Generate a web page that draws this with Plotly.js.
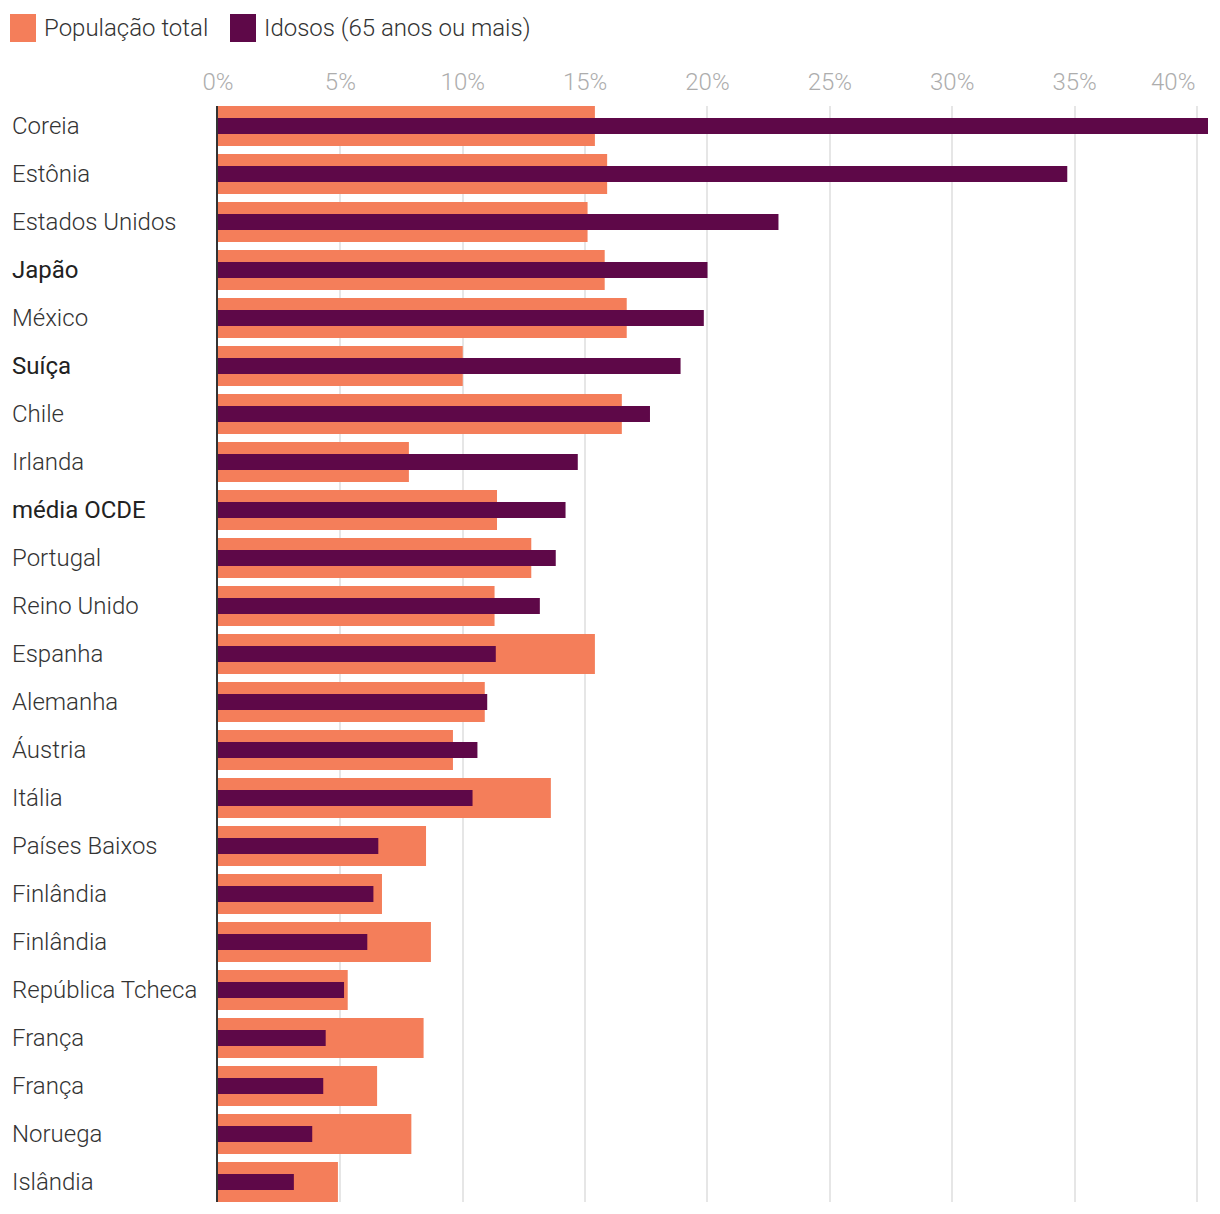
<!DOCTYPE html>
<html>
<head>
<meta charset="utf-8">
<script src="https://cdn.plot.ly/plotly-3.0.1.min.js"></script>
<style>
  html, body { margin: 0; padding: 0; background: #ffffff; }
  #chart { width: 1220px; height: 1214px; }
</style>
</head>
<body>
<div id="chart"></div>
<script>
// ---- data ----
const countries = [
  "Coreia", "Estônia", "Estados Unidos", "Japão", "México", "Suíça", "Chile",
  "Irlanda", "média OCDE", "Portugal", "Reino Unido", "Espanha", "Alemanha",
  "Áustria", "Itália", "Países Baixos", "Finlândia", "Finlândia",
  "República Tcheca", "França", "França", "Noruega", "Islândia"
];
const highlighted = ["Japão", "Suíça", "média OCDE"];
const populacaoTotal = [
  15.4, 15.9, 15.1, 15.8, 16.7, 10.0, 16.5,
  7.8, 11.4, 12.8, 11.3, 15.4, 10.9,
  9.6, 13.6, 8.5, 6.7, 8.7,
  5.3, 8.4, 6.5, 7.9, 4.9
];
const idosos = [
  40.45, 34.7, 22.9, 20.0, 19.85, 18.9, 17.65,
  14.7, 14.2, 13.8, 13.15, 11.35, 11.0,
  10.6, 10.4, 6.55, 6.35, 6.1,
  5.15, 4.4, 4.3, 3.85, 3.1
];
const tickValues = [0, 5, 10, 15, 20, 25, 30, 35, 40];
const tickLabels = ["0%", "5%", "10%", "15%", "20%", "25%", "30%", "35%", "40%"];
const legendNames = ["População total", "Idosos (65 anos ou mais)"];
const colors = ["#f47e5a", "#5e0848"];

// ---- layout helpers ----
const W = 1220, H = 1214;
const M = { l: 218, r: 12, t: 106, b: 12 };
const plotW = W - M.l - M.r, plotH = H - M.t - M.b;
const px2x = px => (px - M.l) / plotW;
const py2y = py => (H - M.b - py) / plotH;
const FONT = "Roboto, sans-serif";
const tickFont = { family: FONT, size: 24, color: "#adadad", weight: 300 };

const idx = countries.map((_, i) => i);

const traces = [
  {
    type: "bar", orientation: "h", name: legendNames[0],
    x: populacaoTotal, y: idx, width: 0.833,
    marker: { color: colors[0] }, showlegend: false, hoverinfo: "x"
  },
  {
    type: "bar", orientation: "h", name: legendNames[1],
    x: idosos, y: idx, width: 0.333,
    marker: { color: colors[1] }, showlegend: false, hoverinfo: "x"
  }
];

// last tick label is right-aligned to its gridline (drawn as annotation)
const last = tickLabels.length - 1;
const tickText = tickLabels.map((t, i) => i === last ? "" : t);

const annotations = countries.map((c, i) => {
  const hl = highlighted.includes(c);
  return {
    text: c, xref: "paper", yref: "y", x: px2x(10), y: i,
    xanchor: "left", yanchor: "middle", showarrow: false,
    font: { family: FONT, size: 24, color: hl ? "#222222" : "#333333", weight: hl ? 400 : 300 }
  };
});
annotations.push({
  text: tickLabels[last], xref: "x", yref: "paper",
  x: tickValues[last], y: py2y(82),
  xanchor: "right", yanchor: "middle", showarrow: false,
  font: tickFont
});

// legend built from names/colors
const legendX = [10, 230];
const shapes = [];
legendNames.forEach((n, i) => {
  shapes.push({
    type: "rect", xref: "paper", yref: "paper",
    x0: px2x(legendX[i]), x1: px2x(legendX[i] + 26),
    y0: py2y(42), y1: py2y(14),
    fillcolor: colors[i], line: { width: 0 }
  });
  annotations.push({
    text: n, xref: "paper", yref: "paper",
    x: px2x(legendX[i] + 32), y: py2y(28),
    xanchor: "left", yanchor: "middle", showarrow: false,
    font: { family: FONT, size: 24, color: "#333333", weight: 300 }
  });
});

const layout = {
  width: W, height: H,
  margin: M,
  paper_bgcolor: "#ffffff", plot_bgcolor: "#ffffff",
  barmode: "overlay",
  font: { family: FONT, weight: 300 },
  xaxis: {
    side: "top", range: [0, 40.45],
    tickvals: tickValues, ticktext: tickText,
    tickfont: tickFont,
    showgrid: true, gridcolor: "#e6e6e6", gridwidth: 2,
    zeroline: false, showline: false, ticks: "", ticklabelstandoff: 10,
    fixedrange: true
  },
  yaxis: {
    range: [22.4167, -0.4167],
    showticklabels: false, ticks: "",
    showgrid: false, zeroline: false,
    showline: true, linecolor: "#333333", linewidth: 2,
    fixedrange: true
  },
  shapes: shapes,
  annotations: annotations,
  showlegend: false
};

Plotly.newPlot("chart", traces, layout, { displayModeBar: false, staticPlot: true });
</script>
</body>
</html>
